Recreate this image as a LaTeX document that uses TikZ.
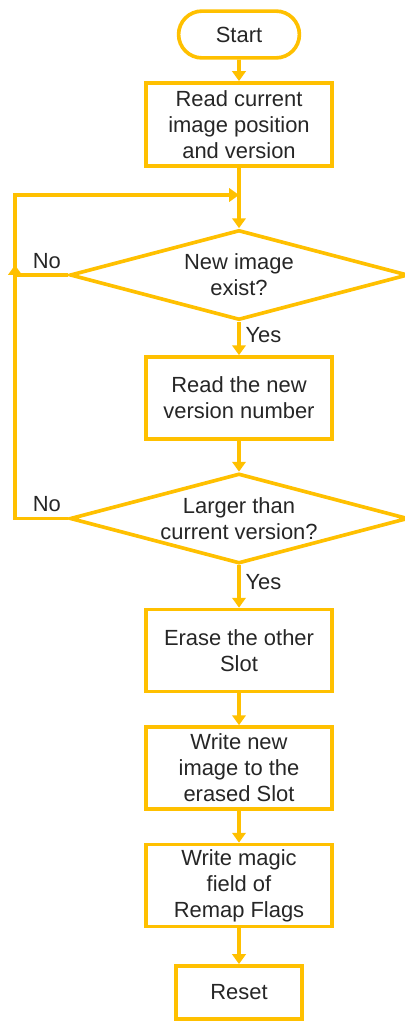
\documentclass[tikz,border=0pt]{standalone}
\usepackage{fontspec}
\setmainfont{Liberation Sans}
\usetikzlibrary{shapes.geometric,shapes.misc,arrows.meta}
\definecolor{flowgold}{RGB}{255,192,0}

\begin{document}
\begin{tikzpicture}[
    every node/.style={font=\fontsize{15.6}{18.5}\selectfont, text=black!85, align=center},
    box/.style={draw=flowgold, line width=2.6pt, rectangle, minimum width=4.65cm, minimum height=2.05cm, inner sep=0pt},
    term/.style={draw=flowgold, line width=2.6pt, rounded rectangle, minimum width=3.02cm, minimum height=1.17cm, inner sep=0pt},
    decide/.style={draw=flowgold, line width=2.6pt, diamond, aspect=3.66, minimum width=8.45cm, minimum height=2.25cm, inner sep=0pt},
    flow/.style={draw=flowgold, line width=2.6pt, -{Triangle[length=7pt,width=9.5pt]}}
  ]
  \useasboundingbox (0,0) rectangle (10.1,-25.575);

  % Steps of the update
  \node[term] (start) at (5.975,-0.8625) {Start};
  \node[box, minimum height=2.08cm] (read) at (5.975,-3.1125) {Read current\\image position\\and version};
  \node[decide] (exist) at (5.975,-6.875) {New image\\exist?};
  \node[box] (readnew) at (5.975,-9.95) {Read the new\\version number};
  \node[decide] (larger) at (5.975,-12.9625) {Larger than\\current version?};
  \node[box] (erase) at (5.975,-16.2625) {Erase the other\\Slot};
  \node[box] (write) at (5.975,-19.2) {Write new\\image to the\\erased Slot};
  \node[box] (magic) at (5.975,-22.1375) {Write magic\\field of\\Remap Flags};
  \node[term, rounded rectangle=false, rectangle, minimum width=3.15cm, minimum height=1.33cm] (reset) at (5.975,-24.8125) {Reset};

  % Main flow
  \draw[flow] (start) -- (read);
  \draw[flow] (read) -- (exist);
  \draw[flow] (exist) -- node[right, pos=0.4] {Yes} (readnew);
  \draw[flow] (readnew) -- (larger);
  \draw[flow] (larger) -- node[right, pos=0.4] {Yes} (erase);
  \draw[flow] (erase) -- (write);
  \draw[flow] (write) -- (magic);
  \draw[flow] (magic) -- (reset);

  % Loops back on No
  \coordinate (looptop) at (0.375,-4.875);
  \coordinate (loopin) at (0.375,-6.625);
  \draw[flow] (exist.west) -- node[above, pos=0.4] {No} (exist.west -| looptop) -- (looptop) -- (looptop -| read.south);
  \draw[flow] (larger.west) -- node[above, pos=0.4] {No} (larger.west -| loopin) -- (loopin);
\end{tikzpicture}
\end{document}
